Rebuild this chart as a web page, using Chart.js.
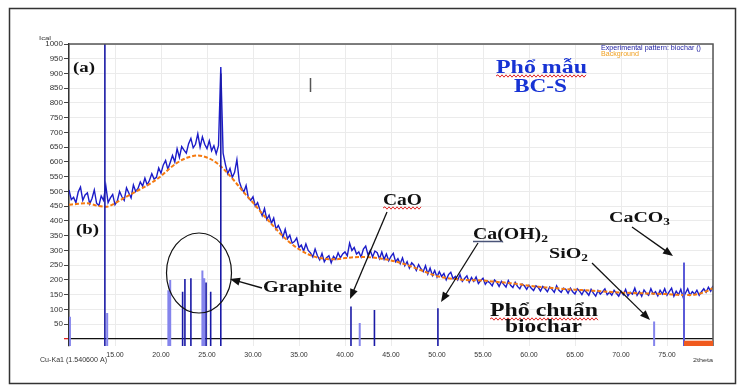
<!DOCTYPE html>
<html>
<head>
<meta charset="utf-8">
<script src="https://cdn.jsdelivr.net/npm/chart.js@4.4.0/dist/chart.umd.min.js"></script>
<style>
  html, body { margin: 0; padding: 0; background: #fff; }
  #wrap { width: 740px; height: 389px; }
</style>
</head>
<body>
<div id="wrap"><canvas id="xrdChart" width="740" height="389"></canvas></div>
<script>
// experimental pattern (counts), 2theta from 10.00 to 80.00, one reading every 0.25 deg
var startAngle = 10;
var angleStep = 0.25;
var experimental = [
    505, 472, 480, 462, 498, 515, 470, 488,
    495, 458, 476, 505, 460, 452, 485, 470,
    520, 462, 478, 490, 455, 468, 500, 482,
    470, 512, 495, 478, 522, 500, 510, 532,
    518, 545, 522, 538, 560, 542, 548, 580,
    562, 590, 605, 575, 598, 622, 600, 645,
    615, 652, 640, 630, 662, 680, 648, 660,
    695, 650, 685, 660, 645, 672, 638, 655,
    628, 655, 922, 630, 592, 560, 578, 548,
    565, 608, 535, 512, 498, 520, 478, 470,
    482, 450, 462, 438, 418, 442, 405, 420,
    392, 410, 372, 385, 368, 345, 372, 340,
    352, 325, 330, 342, 310, 318, 298, 322,
    300, 292, 278, 305, 282, 268, 290, 262,
    275, 282, 258, 280, 270, 292, 275, 288,
    295, 282, 325, 300, 310, 288, 295, 278,
    305, 315, 285, 300, 278, 298, 292, 272,
    295, 270, 288, 265, 280, 290, 262, 272,
    255, 275, 248, 262, 240, 258, 250, 232,
    252, 238, 228, 248, 220, 240, 215, 232,
    210, 228, 212, 222, 200, 218, 226, 204,
    212, 200, 218, 195, 205, 214, 192, 208,
    195, 210, 188, 198, 206, 185, 196, 190,
    180, 200, 192, 178, 195, 185, 176, 198,
    182, 174, 192, 178, 170, 186, 180, 168,
    182, 172, 164, 180, 175, 162, 178, 170,
    160, 176, 168, 158, 180, 165, 158, 172,
    168, 155, 172, 160, 152, 170, 162, 150,
    166, 158, 148, 168, 155, 145, 164, 152,
    160, 170, 150, 158, 148, 165, 155, 145,
    162, 150, 168, 146, 158, 152, 172, 148,
    160, 145, 166, 155, 148, 170, 152, 160,
    146, 165, 152, 170, 148, 160, 172, 145,
    162, 150, 168, 142, 155, 170, 148, 160,
    152, 165, 148, 160, 170, 158, 175, 162,
    180
];

// fitted background, one value per degree from 10 to 80
var background = [
    455, 458, 460, 452, 448, 460, 478, 495, 512, 530,
    552, 580, 602, 616, 622, 615, 598, 570, 535, 497,
    462, 425, 390, 356, 327, 304, 287, 276, 271, 270,
    274, 277, 278, 276, 272, 266, 258, 248, 236, 224,
    213, 207, 203, 200, 199, 198, 195, 192, 189, 185,
    180, 177, 174, 172, 169, 167, 165, 163, 161, 159,
    157, 156, 155, 154, 153, 152, 150, 149, 150, 158,
    172
];

// reference pattern sticks (phổ chuẩn)
var stickAngles  = [10.1, 13.9, 14.15, 20.8, 21.0, 22.35, 22.6, 23.25, 24.5, 24.7, 24.9, 25.4, 26.5, 40.65, 41.6, 43.2, 50.1, 73.6, 76.85];
var stickHeights = [75, 1000, 88, 165, 200, 160, 203, 206, 232, 206, 191, 160, 900, 110, 54, 98, 104, 59, 259];
var stickShade   = ['light', 'dark', 'light', 'light', 'light', 'dark', 'dark', 'dark', 'light', 'light', 'dark', 'dark', 'dark', 'dark', 'light', 'dark', 'dark', 'light', 'mid'];

var xTicks = [10, 15, 20, 25, 30, 35, 40, 45, 50, 55, 60, 65, 70, 75, 80];
var yTicks = [0, 50, 100, 150, 200, 250, 300, 350, 400, 450, 500, 550, 600, 650, 700, 750, 800, 850, 900, 950, 1000];
var yMin = -24;
var rangeBar = [76.85, 80];

var expPoints = experimental.map((v, i) => ({ x: startAngle + i * angleStep, y: v }));
var bgPoints = background.map((v, i) => ({ x: startAngle + i, y: v }));

function sticks(shade) {
    var pts = [];
    stickAngles.forEach((a, i) => {
        if (stickShade[i] != shade) return;
        pts.push({ x: a, y: yMin }, { x: a, y: stickHeights[i] }, { x: a, y: null });
    });
    return pts;
}

function fitText(c, txt, x, base, font, width, color) {
    c.font = font;
    var w = c.measureText(txt).width;
    c.save();
    c.translate(x, base);
    c.scale(width / w, 1);
    c.fillStyle = color;
    c.fillText(txt, 0, 0);
    c.restore();
}

// parts: [text, size, baseline shift]
function chem(c, parts, x, base, width) {
    var total = 0;
    parts.forEach(p => {
        c.font = 'bold ' + p[1] + 'px "Liberation Serif"';
        p.w = c.measureText(p[0]).width;
        total += p.w;
    });
    c.save();
    c.translate(x, base);
    c.scale(width / total, 1);
    c.fillStyle = '#111';
    var cx = 0;
    parts.forEach(p => {
        c.font = 'bold ' + p[1] + 'px "Liberation Serif"';
        c.fillText(p[0], cx, p[2] || 0);
        cx += p.w;
    });
    c.restore();
}

function wavy(c, x0, x1, y) {
    c.beginPath();
    c.strokeStyle = '#e02424';
    c.lineWidth = 1;
    c.moveTo(x0, y);
    var up = true;
    for (var px = x0 + 2; px <= x1; px += 2) {
        c.lineTo(px, up ? y - 1.2 : y + 1.2);
        up = !up;
    }
    c.stroke();
}

function arrow(c, x0, y0, x1, y1) {
    var ang = Math.atan2(y1 - y0, x1 - x0), L = 10, W = 4;
    var cs = Math.cos(ang), sn = Math.sin(ang);
    c.strokeStyle = '#111';
    c.fillStyle = '#111';
    c.lineWidth = 1.3;
    c.beginPath();
    c.moveTo(x0, y0);
    c.lineTo(x1 - L * cs * 0.8, y1 - L * sn * 0.8);
    c.stroke();
    c.beginPath();
    c.moveTo(x1, y1);
    c.lineTo(x1 - L * cs + W * sn, y1 - L * sn - W * cs);
    c.lineTo(x1 - L * cs - W * sn, y1 - L * sn + W * cs);
    c.closePath();
    c.fill();
}

var decor = {
    id: 'decor',
    afterDraw(chart) {
        var c = chart.ctx, a = chart.chartArea, sx = chart.scales.x, sy = chart.scales.y;
        c.save();
        // outer frame
        c.strokeStyle = '#333';
        c.lineWidth = 1.5;
        c.strokeRect(9.5, 8.5, 726, 375);
        // plot frame top and right
        c.strokeStyle = '#555';
        c.beginPath();
        c.moveTo(a.left, a.top);
        c.lineTo(a.right, a.top);
        c.lineTo(a.right, a.bottom);
        c.stroke();
        // red range bar under the axis
        var bx0 = sx.getPixelForValue(rangeBar[0]), bx1 = sx.getPixelForValue(rangeBar[1]);
        var by0 = sy.getPixelForValue(-6), by1 = sy.getPixelForValue(yMin);
        c.fillStyle = '#f05a1e';
        c.fillRect(bx0, by0, bx1 - bx0, by1 - by0);

        // small axis texts
        fitText(c, 'Ical', 39, 40, '6px "Liberation Sans"', 12, '#333');
        fitText(c, 'Cu-Ka1 (1.540600 A)', 40, 362, '7px "Liberation Sans"', 67, '#333');
        fitText(c, '2theta', 693, 362, '6px "Liberation Sans"', 20, '#333');
        // legend
        fitText(c, 'Experimental pattern: biochar ()', 601, 50, '7px "Liberation Sans"', 100, '#1a1aa0');
        fitText(c, 'Background', 601, 56, '7px "Liberation Sans"', 38, '#f0a020');

        // panel labels
        fitText(c, '(a)', 73, 72, 'bold 15px "Liberation Serif"', 22, '#111');
        fitText(c, '(b)', 76, 234, 'bold 15px "Liberation Serif"', 23, '#111');

        // sample spectrum title
        fitText(c, 'Phổ mẫu', 496, 73, 'bold 18px "Liberation Serif"', 91, '#1733d4');
        wavy(c, 496, 587, 76);
        fitText(c, 'BC-S', 514, 92, 'bold 18px "Liberation Serif"', 53, '#1733d4');

        // standard spectrum title
        fitText(c, 'Phổ chuẩn', 490, 316, 'bold 18px "Liberation Serif"', 108, '#111');
        wavy(c, 490, 598, 319);
        fitText(c, 'biochar', 505, 332, 'bold 18px "Liberation Serif"', 77, '#111');

        // phase labels
        chem(c, [['CaO', 16]], 383, 205, 39);
        wavy(c, 383, 422, 208);
        chem(c, [['Ca(OH)', 16], ['2', 11, 3]], 473, 239, 75);
        c.strokeStyle = '#4a5478';
        c.lineWidth = 1.5;
        c.beginPath();
        c.moveTo(473, 241.5);
        c.lineTo(503, 241.5);
        c.stroke();
        chem(c, [['CaCO', 15], ['3', 10, 3]], 609, 222, 61);
        chem(c, [['SiO', 15], ['2', 10, 3]], 549, 258, 39);
        chem(c, [['Graphite', 16]], 263, 292, 79);

        // graphite ellipse
        c.strokeStyle = '#111';
        c.lineWidth = 1.2;
        c.beginPath();
        c.ellipse(199, 273, 32.5, 40, 0, 0, Math.PI * 2);
        c.stroke();

        // arrows
        arrow(c, 387, 212, 350, 299);
        arrow(c, 478, 243, 441, 302);
        arrow(c, 632, 227, 673, 256);
        arrow(c, 592, 263, 650, 320);
        arrow(c, 262, 288, 230, 279);

        // stray cursor mark
        c.strokeStyle = '#555';
        c.lineWidth = 1.5;
        c.beginPath();
        c.moveTo(310.5, 78);
        c.lineTo(310.5, 92);
        c.stroke();
        c.restore();
    }
};

var ctx = document.getElementById('xrdChart').getContext('2d');
var chart = new Chart(ctx, {
    type: 'scatter',
    data: {
        datasets: [{
            label: 'Experimental pattern: biochar ()',
            data: expPoints,
            showLine: true,
            borderColor: '#1c1cc8',
            borderWidth: 1.4,
            pointRadius: 0,
            order: 3
        },
        {
            label: 'Background',
            data: bgPoints,
            showLine: true,
            borderColor: '#f57a10',
            borderWidth: 2,
            borderDash: [4, 2],
            cubicInterpolationMode: 'monotone',
            pointRadius: 0,
            order: 2
        },
        {
            label: 'Reference dark',
            data: sticks('dark'),
            showLine: true,
            borderColor: '#1a1aa6',
            borderWidth: 1.6,
            pointRadius: 0,
            order: 1
        },
        {
            label: 'Reference light',
            data: sticks('light'),
            showLine: true,
            borderColor: '#8484ec',
            borderWidth: 2,
            pointRadius: 0,
            order: 1
        },
        {
            label: 'Reference mid',
            data: sticks('mid'),
            showLine: true,
            borderColor: '#5a5ad8',
            borderWidth: 2,
            pointRadius: 0,
            order: 1
        }]
    },
    options: {
        responsive: false,
        animation: false,
        layout: { padding: { left: 10, top: 44, right: 27, bottom: 0 } },
        plugins: { legend: { display: false }, tooltip: { enabled: false } },
        scales: {
            x: {
                type: 'linear',
                min: 10,
                max: 80,
                afterBuildTicks: s => { s.ticks = xTicks.map(v => ({ value: v })); },
                afterFit: s => { s.height = 43; },
                border: { display: false },
                grid: { color: '#ebebeb', drawTicks: false },
                ticks: {
                    autoSkip: false,
                    maxRotation: 0,
                    padding: 5,
                    color: '#333',
                    font: { size: 7, family: 'Liberation Sans' },
                    callback: v => (v == 10 || v == 80) ? '' : v.toFixed(2)
                }
            },
            y: {
                min: yMin,
                max: 1000,
                afterBuildTicks: s => { s.ticks = yTicks.map(v => ({ value: v })); },
                afterFit: s => { s.width = 59; },
                border: { color: '#333', width: 1.5 },
                grid: {
                    color: c => (c.tick && c.tick.value === 0) ? '#111' : '#ebebeb',
                    lineWidth: c => (c.tick && c.tick.value === 0) ? 1.3 : 1,
                    tickColor: c => (c.tick && c.tick.value === 0) ? '#e02020' : '#444',
                    tickLength: 5
                },
                ticks: {
                    autoSkip: false,
                    padding: 1,
                    color: '#333',
                    font: { size: 8, family: 'Liberation Sans' },
                    callback: v => v === 0 ? '' : v
                }
            }
        }
    },
    plugins: [decor]
});
</script>
</body>
</html>
